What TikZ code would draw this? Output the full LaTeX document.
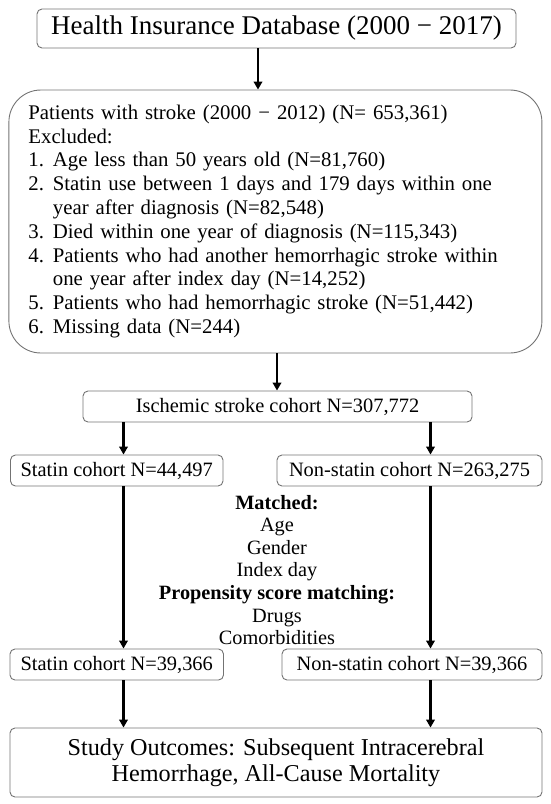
\documentclass[tikz,border=0pt]{standalone}
\usepackage{fontspec}
\setmainfont{Liberation Serif}
\usepackage{tikz}
\usetikzlibrary{arrows.meta,calc,positioning}
\definecolor{BoxGray}{RGB}{115,115,115}

\begin{document}
\begin{tikzpicture}[x=1pt,y=-1pt,>={Triangle[length=8pt,width=8.5pt]},
    box/.style={draw=BoxGray,line width=0.9pt,rounded corners=5pt,inner sep=0pt,
      minimum height=31pt,font=\fontsize{20.4}{22}\selectfont},
    flow/.style={->,line width=2.6pt}]
  \useasboundingbox (0,0) rectangle (550,804);
  % columns of the arrows
  \coordinate (topcol) at (258,0);
  \coordinate (midcol) at (277,0);
  \coordinate (lcol) at (123.5,0);
  \coordinate (rcol) at (430.5,0);
  \node[box,minimum width=479pt,minimum height=39pt,
    font=\fontsize{27}{29}\selectfont] (db) at (276.5,28.5)
    {Health Insurance Database (2000 − 2017)};
  \node[box,rounded corners=32pt,minimum width=533pt,minimum height=263pt,
    text width=494pt,inner xsep=19.5pt,align=left,
    font=\fontsize{20.8}{23.8}\selectfont] (stroke) at (275.4,221.5)
    {Patients with stroke (2000 − 2012) (N= 653,361)\\
     Excluded:\\
     \makebox[24.5pt][l]{1.}Age less than 50 years old (N=81,760)\\
     \makebox[24.5pt][l]{2.}Statin use between 1 days and 179 days within one\\
     \hspace*{24.5pt}year after diagnosis (N=82,548)\\
     \makebox[24.5pt][l]{3.}Died within one year of diagnosis (N=115,343)\\
     \makebox[24.5pt][l]{4.}Patients who had another hemorrhagic stroke within\\
     \hspace*{24.5pt}one year after index day (N=14,252)\\
     \makebox[24.5pt][l]{5.}Patients who had hemorrhagic stroke (N=51,442)\\
     \makebox[24.5pt][l]{6.}Missing data (N=244)};
  \node[box,minimum width=389pt] (ischemic) at (277.5,406.5)
    {Ischemic stroke cohort N=307,772};
  \node[box,minimum width=212.5pt] (statinA) at (116.75,470.5)
    {Statin cohort N=44,497};
  \node[box,minimum width=265pt] (nonstatinA) at (409.5,470.5)
    {Non-statin cohort N=263,275};
  \node[align=center,inner sep=0pt,font=\fontsize{20.3}{22.6}\selectfont]
    (match) at (277,570)
    {\textbf{Matched:}\\Age\\Gender\\Index day\\
     \textbf{Propensity score matching:}\\Drugs\\Comorbidities};
  \node[box,minimum width=213.5pt] (statinB) at (116.75,664.5)
    {Statin cohort N=39,366};
  \node[box,minimum width=260pt] (nonstatinB) at (412,664.5)
    {Non-statin cohort N=39,366};
  \node[box,minimum width=532pt,minimum height=69pt,align=center,
    font=\fontsize{24.2}{25.5}\selectfont] (outcome) at (276,762.5)
    {Study Outcomes: Subsequent Intracerebral\\
     Hemorrhage, All-Cause Mortality};
  % connectors
  \draw[flow] (db.south -| topcol) -- (stroke.north -| topcol);
  \draw[flow] (stroke.south -| midcol) -- (ischemic.north -| midcol);
  \draw[flow] (ischemic.south -| lcol) -- (statinA.north -| lcol);
  \draw[flow] (ischemic.south -| rcol) -- (nonstatinA.north -| rcol);
  \draw[flow] (statinA.south -| lcol) -- (statinB.north -| lcol);
  \draw[flow] (nonstatinA.south -| rcol) -- (nonstatinB.north -| rcol);
  \draw[flow] (statinB.south -| lcol) -- (outcome.north -| lcol);
  \draw[flow] (nonstatinB.south -| rcol) -- (outcome.north -| rcol);
\end{tikzpicture}
\end{document}
